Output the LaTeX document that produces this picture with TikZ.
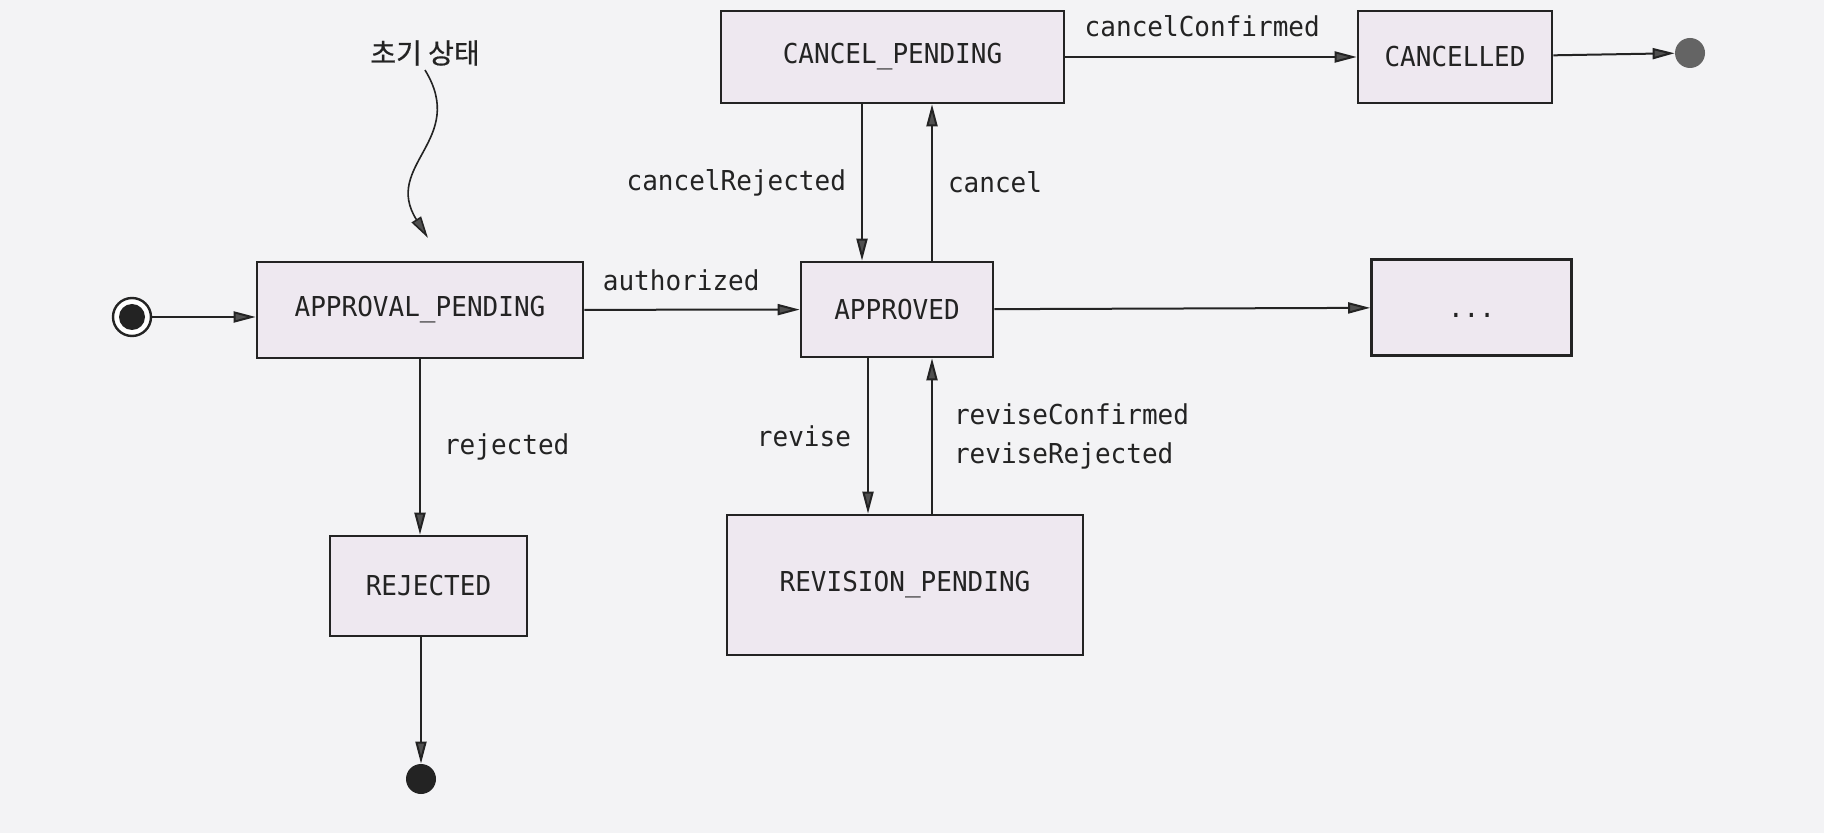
\documentclass[tikz,border=0pt]{standalone}
\usepackage{fontspec}
\setmonofont[FakeStretch=0.95]{DejaVu Sans Mono}
\newfontfamily\krfont[FakeBold=0.6]{Noto Sans CJK KR}
\usetikzlibrary{arrows.meta,calc}
\definecolor{pagegray}{RGB}{243,243,245}
\definecolor{statefill}{RGB}{238,232,240}
\definecolor{inkgray}{RGB}{35,35,35}
\definecolor{tipgray}{RGB}{80,80,80}
\definecolor{dotgray}{RGB}{100,100,100}

\begin{document}
\begin{tikzpicture}[x=0.5pt, y=-0.5pt,
    state/.style={rectangle, draw=inkgray, line width=1.3pt, fill=statefill, inner sep=0pt, font=\ttfamily\fontsize{13.7}{19.5}\selectfont, text=inkgray},
    lbl/.style={font=\ttfamily\fontsize{13.7}{19.5}\selectfont, text=inkgray, inner sep=0pt},
    arrow/.style={draw=inkgray, line width=1pt, -{Triangle[length=11pt, width=5.5pt, fill=tipgray]}}
]

% Page
\fill[pagegray] (0,0) rectangle (1824,833);
\useasboundingbox (0,0) rectangle (1824,833);

% Start
\node[circle, draw=inkgray, line width=1.2pt, fill=white, minimum size=19pt, inner sep=0pt] (init) at (132,317) {};
\fill[inkgray] (init) circle (6.5pt);

% Initial state note
\node[font=\krfont\fontsize{14}{16}\selectfont, text=inkgray, inner sep=2pt] (initlabel) at (425,53) {초기 상태};
\coordinate (inittip) at (428,238);
\draw[arrow, line width=0.8pt] (initlabel.south) .. controls (468,140) and (382,165) .. (inittip);

% States
\node[state, minimum width=163pt, minimum height=48pt] (appending) at (420,310) {APPROVAL\_PENDING};
\node[state, minimum width=96pt, minimum height=47.5pt] (approved) at (897,309.5) {APPROVED};
\node[state, minimum width=171.5pt, minimum height=46pt] (cancelpending) at (892.5,57) {CANCEL\_PENDING};
\node[state, minimum width=97pt, minimum height=46pt] (cancelled) at (1455,57) {CANCELLED};
\node[state, minimum width=100pt, minimum height=48pt] (more) at (1471.5,307.5) {\vphantom{A}...};
\node[state, minimum width=178pt, minimum height=70pt] (revisionpending) at (905,585) {REVISION\_PENDING};
\node[state, minimum width=98.5pt, minimum height=50pt] (rejected) at (428.5,586) {REJECTED};

% Final states
\node[circle, fill=dotgray, minimum size=15pt, inner sep=0pt] (final1) at (1690,53) {};
\node[circle, fill=inkgray, minimum size=15pt, inner sep=0pt] (final2) at (421,779) {};

% Main line
\draw[arrow] (init) -- (init -| appending.west);
\draw[arrow] (appending) -- node[lbl, above=9pt, pos=0.45] {authorized} (approved);
\draw[arrow] (approved) -- (more);

% Cancel branch
\coordinate (cr) at ([xshift=-17.5pt]approved.north);
\coordinate (cc) at ([xshift=17.5pt]approved.north);
\draw[arrow] (cr |- cancelpending.south) -- node[lbl, left=7.5pt] {cancelRejected} (cr);
\draw[arrow] (cc) -- node[lbl, right=7.5pt] {cancel} (cc |- cancelpending.south);
\draw[arrow] (cancelpending) -- node[lbl, above=9.5pt, pos=0.47] {cancelConfirmed} (cancelled);
\draw[arrow] (cancelled) -- (final1);

% Revise branch
\coordinate (rv) at ([xshift=-14.5pt]approved.south);
\coordinate (rc) at ([xshift=17.5pt]approved.south);
\draw[arrow] (rv) -- node[lbl, left=8pt] {revise} (rv |- revisionpending.north);
\draw[arrow] (rc |- revisionpending.north) -- node[lbl, right=10.5pt, align=left] {reviseConfirmed\\reviseRejected} (rc);

% Rejected branch
\draw[arrow] (appending) -- node[lbl, right=11.5pt] {rejected} (appending |- rejected.north);
\draw[arrow] (rejected.south -| final2) -- (final2);

\end{tikzpicture}
\end{document}
